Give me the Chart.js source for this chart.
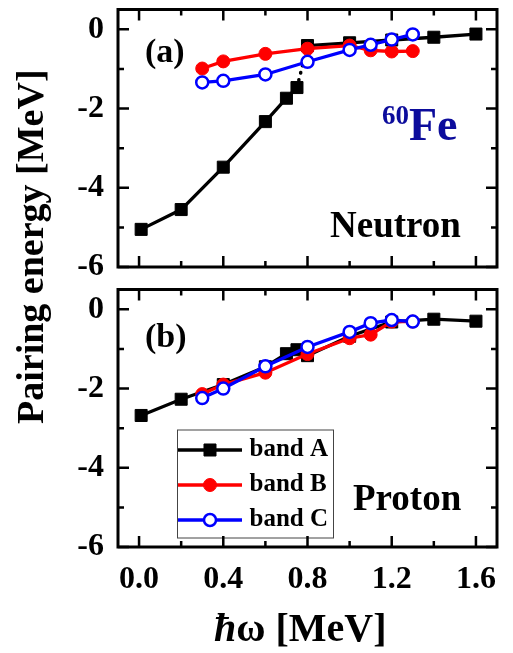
<!DOCTYPE html>
<html>
<head>
<meta charset="utf-8">
<script src="https://cdn.jsdelivr.net/npm/chart.js@4.4.1/dist/chart.umd.min.js"></script>
<style>
  html, body { margin: 0; padding: 0; background: #fff; }
  body { width: 513px; height: 653px; position: relative; overflow: hidden; }
  canvas { position: absolute; left: 0; }
  #cTop { top: 0; }
  #cBot { top: 280px; }
  .lbl { position: absolute; font-family: "Liberation Serif", "Times New Roman", serif; font-weight: bold; line-height: 1; white-space: nowrap; color: #000; }
</style>
</head>
<body>
<canvas id="cTop" width="513" height="280"></canvas>
<canvas id="cBot" width="513" height="373"></canvas>
<div class="lbl" id="tA" style="font-size:34px;">(a)</div>
<div class="lbl" id="tB" style="font-size:34px;">(b)</div>
<div class="lbl" id="tNeu" style="font-size:37px;">Neutron</div>
<div class="lbl" id="tPro" style="font-size:37px;">Proton</div>
<div class="lbl" id="tIso" style="color:#0c0c9c;"><span style="font-size:27px;vertical-align:top;">60</span><span style="font-size:46px;">Fe</span></div>
<div class="lbl" id="tX" style="font-size:40px;"><i>ħ</i>ω [MeV]</div>
<div class="lbl" id="tY" style="font-size:38px;transform-origin:0 0;transform:rotate(-90deg);">Pairing energy [MeV]</div>
<script>
// ---------------- data ----------------
const xA = [0.01, 0.2, 0.4, 0.6, 0.7, 0.75, 0.8, 1.0, 1.2, 1.4, 1.6];
const xBC = [0.3, 0.4, 0.6, 0.8, 1.0, 1.1, 1.2, 1.3];

const neutronA = [-5.05, -4.55, -3.48, -2.33, -1.74, -1.47, -0.41, -0.34, -0.27, -0.20, -0.12];
const neutronB = [-0.99, -0.81, -0.62, -0.49, -0.41, -0.53, -0.56, -0.55];
const neutronC = [-1.34, -1.30, -1.14, -0.82, -0.52, -0.39, -0.26, -0.13];

const protonA = [-2.68, -2.27, -1.90, -1.45, -1.12, -1.02, -1.17, -0.68, -0.32, -0.25, -0.30];
const protonB = [-2.14, -1.90, -1.60, -1.13, -0.73, -0.64, -0.31, -0.31];
const protonC = [-2.24, -2.00, -1.44, -0.95, -0.57, -0.35, -0.27, -0.31];

const seriesNames = ['band A', 'band B', 'band C'];
const xMajor = [0.0, 0.4, 0.8, 1.2, 1.6];
const xMinor = [0.2, 0.6, 1.0, 1.4];
const yMajor = [-6, -4, -2, 0];
const yMinor = [-5, -3, -1];

// ---------------- helpers ----------------
const FONT = '"Liberation Serif", "Times New Roman", serif';
const pts = (xs, ys) => xs.map((x, i) => ({x, y: ys[i]}));

function place(id, x, baseline, size) {
  const el = document.getElementById(id);
  el.style.left = x + 'px';
  el.style.top = (baseline - 0.8375 * size) + 'px';
}
place('tA', 145, 62, 34);
place('tB', 145, 347, 34);
place('tNeu', 330, 237, 37);
place('tPro', 353, 510, 37);
place('tIso', 382, 141, 46);
place('tX', 214, 641, 40);
(function(){
  const el = document.getElementById('tY');
  el.style.left = (43 - 0.8375 * 38) + 'px';
  el.style.top = 424 + 'px';
})();

const styles = [
  {color: '#000000', pointStyle: 'rect', radius: 8.5, bg: '#000000', bw: 1, order: 3},
  {color: '#ff0000', pointStyle: 'circle', radius: 6.5, bg: '#ff0000', bw: 1, order: 2},
  {color: '#0000ff', pointStyle: 'circle', radius: 6, bg: '#ffffff', bw: 2.5, order: 1}
];

function makeIcon(st) {
  const c = document.createElement('canvas');
  c.width = 64; c.height = 22;
  const g = c.getContext('2d');
  g.strokeStyle = st.color; g.lineWidth = 3.3;
  g.beginPath(); g.moveTo(0, 11); g.lineTo(64, 11); g.stroke();
  g.fillStyle = st.bg; g.strokeStyle = st.color; g.lineWidth = st.bw;
  if (st.pointStyle === 'rect') {
    const s = st.radius * Math.SQRT1_2;
    g.beginPath(); g.rect(32 - s, 11 - s, 2 * s, 2 * s); g.fill(); g.stroke();
  } else {
    g.beginPath(); g.arc(32, 11, st.radius, 0, Math.PI * 2); g.fill(); g.stroke();
  }
  return c;
}
const icons = styles.map(makeIcon);

function makeDatasets(ys, dashedSeg) {
  return ys.map((y, k) => {
    const st = styles[k];
    const xs = k === 0 ? xA : xBC;
    const ds = {
      label: seriesNames[k],
      data: pts(xs, y),
      borderColor: st.color,
      backgroundColor: st.bg,
      borderWidth: 3.3,
      pointStyle: st.pointStyle,
      pointRadius: st.radius,
      pointBorderWidth: st.bw,
      pointBorderColor: st.color,
      pointBackgroundColor: st.bg,
      pointHoverRadius: st.radius,
      tension: 0,
      fill: false,
      order: st.order
    };
    if (k === 0 && dashedSeg) {
      ds.segment = {
        borderDash: ctx => (ctx.p0DataIndex === 5 ? [0.5, 7] : undefined),
        borderCapStyle: ctx => (ctx.p0DataIndex === 5 ? 'round' : undefined),
        borderWidth: ctx => (ctx.p0DataIndex === 5 ? 3.5 : undefined)
      };
    }
    return ds;
  });
}

const framePlugin = {
  id: 'frameTicks',
  afterDatasetsDraw(chart) {
    const {ctx, chartArea: a, scales: {x, y}} = chart;
    ctx.save();
    ctx.strokeStyle = '#000';
    ctx.lineCap = 'butt';
    ctx.lineWidth = 2.5;
    const major = 11, minor = 6;
    const vtick = (v, len) => {
      const px = x.getPixelForValue(v);
      ctx.beginPath();
      ctx.moveTo(px, a.bottom); ctx.lineTo(px, a.bottom - len);
      ctx.moveTo(px, a.top); ctx.lineTo(px, a.top + len);
      ctx.stroke();
    };
    const htick = (v, len) => {
      const py = y.getPixelForValue(v);
      ctx.beginPath();
      ctx.moveTo(a.left, py); ctx.lineTo(a.left + len, py);
      ctx.moveTo(a.right, py); ctx.lineTo(a.right - len, py);
      ctx.stroke();
    };
    xMajor.forEach(v => vtick(v, major));
    xMinor.forEach(v => vtick(v, minor));
    yMajor.forEach(v => htick(v, major));
    yMinor.forEach(v => htick(v, minor));
    ctx.lineWidth = 3;
    ctx.strokeRect(a.left, a.top, a.right - a.left, a.bottom - a.top);
    ctx.restore();
  }
};

const legendPlace = {
  id: 'legendPlace',
  afterLayout(chart) {
    const lg = chart.legend;
    if (!lg || !lg.options.display) return;
    const a = chart.chartArea;
    const L = a.left + 55, T = a.top + 138;
    lg.left = L; lg.top = T; lg.width = 170; lg.height = 120;
    lg.right = L + 170; lg.bottom = T + 120;
  },
  beforeDatasetsDraw(chart) {
    const lg = chart.legend;
    if (!lg || !lg.options.display) return;
    const ctx = chart.ctx;
    ctx.save();
    ctx.strokeStyle = '#444';
    ctx.lineWidth = 1;
    ctx.strokeRect(lg.left + 4.5, lg.top + 2.5, 156, 108);
    ctx.restore();
  }
};

function makeChart(id, ys, opts) {
  const isBottom = opts.bottom;
  return new Chart(document.getElementById(id), {
    type: 'line',
    data: { datasets: makeDatasets(ys, opts.dashed) },
    options: {
      responsive: false,
      animation: false,
      devicePixelRatio: 1,
      events: [],
      layout: { padding: { top: isBottom ? 3 : 5, right: 16, left: 0, bottom: 0 } },
      plugins: {
        legend: {
          display: isBottom,
          position: 'chartArea',
          align: 'start',
          labels: {
            usePointStyle: true,
            pointStyleWidth: 54,
            boxHeight: 24,
            padding: 10,
            color: '#000',
            font: { family: FONT, size: 25, weight: 'bold' },
            generateLabels: (chart) => chart.data.datasets.map((d, i) => ({
              text: d.label,
              pointStyle: icons[i],
              fillStyle: d.backgroundColor,
              strokeStyle: d.borderColor,
              lineWidth: 0,
              hidden: false,
              datasetIndex: i,
              fontColor: '#000'
            }))
          }
        },
        tooltip: { enabled: false }
      },
      scales: {
        x: {
          type: 'linear',
          min: -0.1, max: 1.7,
          grid: { display: false, drawTicks: false },
          border: { display: false },
          afterBuildTicks: s => { s.ticks = xMajor.map(v => ({value: v})); },
          afterFit: s => { s.height = isBottom ? 106 : 13; s.paddingLeft = 0; s.paddingRight = 0; },
          ticks: {
            display: isBottom,
            padding: 14,
            color: '#000',
            maxRotation: 0,
            autoSkip: false,
            font: { family: FONT, size: 32, weight: 'bold' },
            callback: v => Number(v).toFixed(1)
          }
        },
        y: {
          type: 'linear',
          min: -6, max: 0.5,
          grid: { display: false, drawTicks: false },
          border: { display: false },
          afterBuildTicks: s => { s.ticks = yMajor.map(v => ({value: v})); },
          afterFit: s => { s.width = 118; s.paddingTop = 0; s.paddingBottom = 0; },
          ticks: {
            padding: 14,
            color: '#000',
            autoSkip: false,
            font: { family: FONT, size: 32, weight: 'bold' },
            callback: v => String(v)
          }
        }
      }
    },
    plugins: [framePlugin, legendPlace]
  });
}

makeChart('cTop', [neutronA, neutronB, neutronC], { bottom: false, dashed: true });
makeChart('cBot', [protonA, protonB, protonC], { bottom: true, dashed: false });
</script>
</body>
</html>
